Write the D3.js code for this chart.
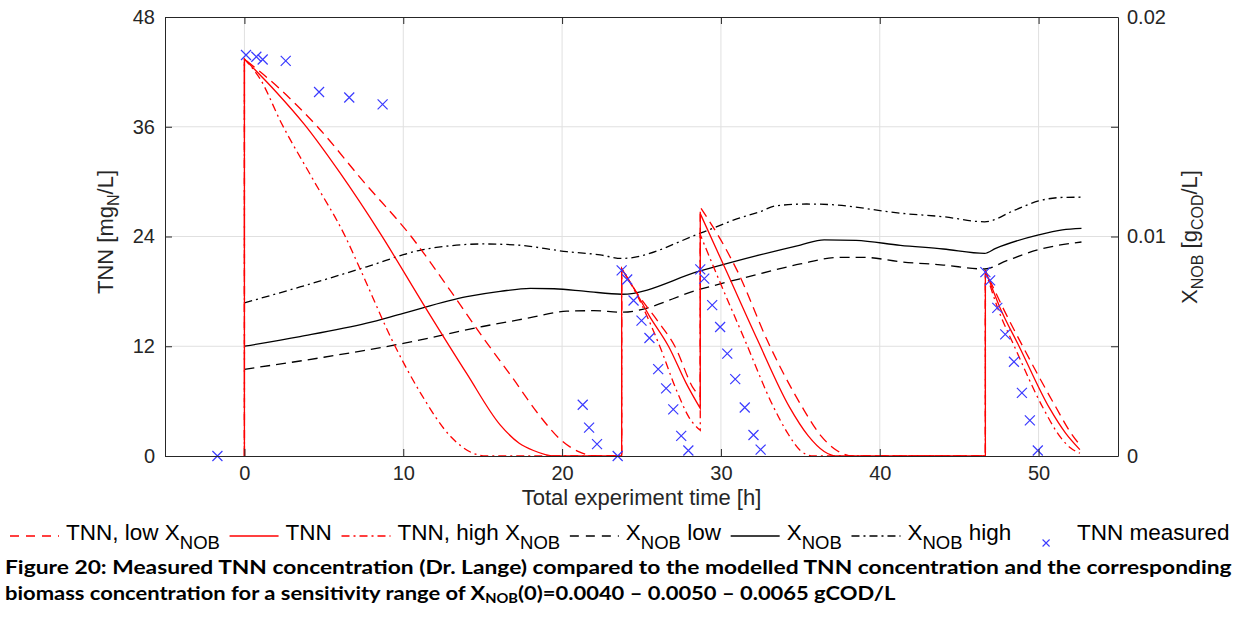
<!DOCTYPE html>
<html>
<head>
<meta charset="utf-8">
<script src="https://cdn.jsdelivr.net/npm/d3@7"></script>
<style>
  body { margin: 0; background: #fff; }
  svg text { font-family: "Liberation Sans", Arial, sans-serif; white-space: pre; }
</style>
</head>
<body>
<div id="chart"></div>
<script>
// ---- data ----
// measured TNN [mgN/L] vs time [h]
var measTime = [-1.7, 0.1, 0.75, 1.15, 2.6, 4.7, 6.6, 8.7,
  21.3, 21.7, 22.2, 23.5,
  23.75, 24.1, 24.5, 25.0, 25.5, 26.05, 26.55, 27.0, 27.5, 27.95,
  28.7, 28.95, 29.45, 29.95, 30.4, 30.9, 31.5, 32.05, 32.5,
  46.65, 46.95, 47.4, 47.9, 48.45, 48.95, 49.45, 49.95];
var measTNN = [0, 43.85, 43.65, 43.35, 43.2, 39.8, 39.2, 38.45,
  5.6, 3.1, 1.3, 0,
  20.3, 19.3, 17.0, 14.8, 12.9, 9.5, 7.4, 5.1, 2.2, 0.6,
  20.4, 19.4, 16.5, 14.1, 11.2, 8.4, 5.3, 2.3, 0.7,
  20.1, 19.2, 16.2, 13.3, 10.3, 6.9, 3.9, 0.6];

// modelled TNN [mgN/L], [time, value]
var tnnLow = [[0,0],[0,43.4],[2,40.5],[4.6,36],[7.5,30],[10.5,24],[13,18],[15,13],[16.9,8.5],[18.5,4.6],[19.9,1.8],[21,0.5],[22.2,0],[23.75,0],
  [23.75,20.5],[24.8,17.6],[26,14.8],[27.1,12],[28.3,7.3],[28.7,6.5],
  [28.7,27.2],[30,23.6],[31.1,20],[32.9,12.7],[35.1,5.4],[36.3,2.2],[37.3,0.6],[38.3,0],[46.65,0],
  [46.65,20.3],[47.7,16.4],[49,12],[51.1,5.3],[52,2.6],[52.7,1.0]];
var tnnMid = [[0,0],[0,43.4],[2,39.8],[3.8,36.2],[6,31],[8.6,24.2],[11.3,16.5],[14,9],[16.1,3.4],[17.3,1.4],[18.2,0.6],[19.5,0],[23.75,0],
  [23.75,20.5],[24.5,18.4],[25.5,15.3],[26.7,12],[27.8,8],[28.7,5.2],
  [28.7,26.5],[30.4,20],[32.3,12.7],[34.3,5.4],[35.5,2.2],[36.5,0.5],[37.3,0],[46.65,0],
  [46.65,20.3],[47.55,16.3],[48.8,11.9],[50.7,5.2],[51.7,2.5],[52.6,0.7]];
var tnnHigh = [[0,0],[0,43.4],[1,41.2],[2.3,36.5],[4.3,30.3],[6.35,24],[7.3,20.4],[9.4,12.3],[11.1,6.85],[13,2.1],[14.4,0.3],[15.2,0],[23.75,0],
  [23.75,20.5],[24.8,17.3],[26.15,12],[27.2,7.2],[28,4.2],[28.7,2.8],
  [28.7,24.2],[29.7,20],[31.5,12.7],[33.3,5.4],[34.2,2.5],[35,0.6],[35.8,0],[46.65,0],
  [46.65,20.3],[47.4,16.3],[48.5,11.9],[50.3,5.2],[51.4,2.0],[52,0.9],[52.6,0.3]];

// modelled biomass X_NOB [gCOD/L], [time, value]
var xnobLow = [[0,0.00395],[5,0.0045],[10,0.00513],[15,0.0059],[18,0.0063],[20.3,0.0066],[22,0.00662],[23.75,0.00655],
  [28.7,0.0076],[32.45,0.0083],[35,0.00875],[37.5,0.00905],[39,0.00905],[41.3,0.00885],[44,0.0087],[46.6,0.00852],
  [48,0.0089],[50,0.0094],[52.7,0.00975]];
var xnobMid = [[0,0.005],[3.5,0.00544],[7.7,0.00605],[10,0.0065],[14,0.00726],[16.1,0.0075],[18,0.00764],[19.5,0.00762],[21.5,0.0075],[23.75,0.00737],
  [28.7,0.00843],[32.45,0.00916],[35,0.00961],[36.5,0.00985],[38.5,0.00982],[41.3,0.0096],[44,0.00943],[46.6,0.00923],
  [47.3,0.00946],[50,0.01007],[51.5,0.0103],[52.7,0.01037]];
var xnobHigh = [[0,0.00698],[3.5,0.0077],[7.7,0.00862],[11.1,0.00938],[13,0.00958],[15,0.00966],[17,0.00962],[20.3,0.00931],[22.4,0.00916],[23.75,0.009],
  [28.7,0.01015],[31,0.0108],[32.45,0.01113],[33.5,0.0114],[35.4,0.01148],[37,0.01145],[41.3,0.01106],[44,0.0109],[46.6,0.01067],
  [48.5,0.0112],[50,0.01162],[51.5,0.01178],[52.7,0.01179]];

var xTicks = [0, 10, 20, 30, 40, 50];
var yTicks = [0, 12, 24, 36, 48];
var y2Ticks = [0, 0.005, 0.01, 0.015, 0.02];
var y2TickLabels = ["0", "", "0.01", "", "0.02"];

var legendLabels = [
  [["TNN, low X"], ["NOB", 1]],
  [["TNN"]],
  [["TNN, high X"], ["NOB", 1]],
  [["X"], ["NOB", 1], [" low"]],
  [["X"], ["NOB", 1]],
  [["X"], ["NOB", 1], [" high"]],
  [["TNN measured"]]
];

// ---- layout ----
var width = 1247, height = 617;
var plot = {left: 165, right: 1118, top: 17, bottom: 456};
var axisColor = "#262626";
var red = "#ff0000";
var blue = "#3a3aff";
var dashed = "10,6", dashDot = "8,4,2,4";

var svg = d3.select("#chart").append("svg")
  .attr("width", width)
  .attr("height", height);

var x = d3.scaleLinear().domain([-5, 55]).range([plot.left, plot.right]);
var y = d3.scaleLinear().domain([0, 48]).range([plot.bottom, plot.top]);
var y2 = d3.scaleLinear().domain([0, 0.02]).range([plot.bottom, plot.top]);

// text with subscript parts
function richText(sel, parts, subSize, shift) {
  var down = false;
  parts.forEach(function(p) {
    var t = sel.append("tspan").text(p[0]);
    if (p[1]) { t.attr("font-size", subSize).attr("dy", shift); down = true; }
    else if (down) { t.attr("dy", -shift); down = false; }
  });
  return sel;
}

// grid
var grid = svg.append("g").attr("stroke", "#e0e0e0").attr("stroke-width", 1);
grid.selectAll(".gx").data(xTicks).join("line")
  .attr("x1", d => x(d)).attr("x2", d => x(d))
  .attr("y1", plot.top).attr("y2", plot.bottom);
grid.selectAll(".gy").data(yTicks.slice(1, -1)).join("line")
  .attr("y1", d => y(d)).attr("y2", d => y(d))
  .attr("x1", plot.left).attr("x2", plot.right);

// curves: split at vertical jumps, keep one continuous path
function pathFor(pts, ys) {
  var segs = [], cur = [pts[0]];
  for (var i = 1; i < pts.length; i++) {
    var p = pts[i], q = pts[i - 1];
    if (p[0] === q[0]) {
      if (cur.length > 1) segs.push(cur);
      segs.push([q, p]);
      cur = [p];
    } else cur.push(p);
  }
  if (cur.length > 1) segs.push(cur);
  var line = d3.line().x(d => x(d[0])).y(d => ys(d[1])).curve(d3.curveMonotoneX);
  return segs.map((s, i) => i ? line(s).replace(/^M/, "L") : line(s)).join("");
}

var curves = [
  {data: xnobLow, ys: y2, color: "#000", dash: dashed},
  {data: xnobMid, ys: y2, color: "#000", dash: null},
  {data: xnobHigh, ys: y2, color: "#000", dash: dashDot},
  {data: tnnLow, ys: y, color: red, dash: dashed},
  {data: tnnHigh, ys: y, color: red, dash: dashDot},
  {data: tnnMid, ys: y, color: red, dash: null}
];
svg.append("g").selectAll("path").data(curves).join("path")
  .attr("d", d => pathFor(d.data, d.ys))
  .attr("fill", "none")
  .attr("stroke", d => d.color)
  .attr("stroke-width", 1.3)
  .attr("stroke-dasharray", d => d.dash);

// measured points
var cross = "M-5,-5L5,5M-5,5L5,-5";
svg.append("g").selectAll("path").data(measTime).join("path")
  .attr("d", cross)
  .attr("transform", (d, i) => "translate(" + x(d) + "," + y(measTNN[i]) + ")")
  .attr("fill", "none").attr("stroke", blue).attr("stroke-width", 1.2);

// axes (ticks pointing inwards)
function styleAxis(g) {
  g.selectAll("path, line").attr("stroke", axisColor).attr("stroke-width", 1);
  g.selectAll("text").attr("fill", axisColor).attr("font-size", 20)
    .attr("font-family", "Liberation Sans, Arial, sans-serif");
}
svg.append("g").attr("transform", "translate(0," + plot.bottom + ")")
  .call(d3.axisBottom(x).tickValues(xTicks).tickSize(-7).tickSizeOuter(0).tickPadding(10))
  .call(styleAxis);
svg.append("g").attr("transform", "translate(0," + plot.top + ")")
  .call(d3.axisTop(x).tickValues(xTicks).tickSize(-7).tickSizeOuter(0).tickFormat(""))
  .call(styleAxis);
svg.append("g").attr("transform", "translate(" + plot.left + ",0)")
  .call(d3.axisLeft(y).tickValues(yTicks).tickSize(-7).tickSizeOuter(0).tickPadding(10))
  .call(styleAxis);
svg.append("g").attr("transform", "translate(" + plot.right + ",0)")
  .call(d3.axisRight(y2).tickValues(y2Ticks).tickSize(-7).tickSizeOuter(0).tickPadding(9)
    .tickFormat((d, i) => y2TickLabels[i]))
  .call(styleAxis);

// axis titles
svg.append("text")
  .attr("x", (plot.left + plot.right) / 2).attr("y", 505)
  .attr("text-anchor", "middle").attr("font-size", 22).attr("fill", axisColor)
  .text("Total experiment time [h]");
richText(svg.append("text")
  .attr("transform", "translate(113,232) rotate(-90)")
  .attr("text-anchor", "middle").attr("font-size", 22).attr("fill", axisColor),
  [["TNN [mg"], ["N", 1], ["/L]"]], 16, 6);
richText(svg.append("text")
  .attr("transform", "translate(1197,237) rotate(-90)")
  .attr("text-anchor", "middle").attr("font-size", 22).attr("fill", axisColor),
  [["X"], ["NOB", 1], [" [g"], ["COD", 1], ["/L]"]], 16, 6);

// legend
var legendStyle = [
  {color: red, dash: "9,7"}, {color: red, dash: null}, {color: red, dash: dashDot},
  {color: "#000", dash: "9,7"}, {color: "#000", dash: null}, {color: "#000", dash: dashDot},
  {marker: true}
];
var lg = svg.append("g");
var cx = 10, ly = 536;
legendLabels.forEach(function(parts, i) {
  var st = legendStyle[i];
  if (st.marker) {
    lg.append("path").attr("d", "M-3.5,-3.5L3.5,3.5M-3.5,3.5L3.5,-3.5")
      .attr("transform", "translate(" + (cx + 25) + "," + (ly + 7) + ")")
      .attr("fill", "none").attr("stroke", blue).attr("stroke-width", 1.1);
  } else {
    lg.append("line").attr("x1", cx).attr("x2", cx + 49).attr("y1", ly).attr("y2", ly)
      .attr("stroke", st.color).attr("stroke-width", 1.3).attr("stroke-dasharray", st.dash);
  }
  var t = richText(lg.append("text").attr("x", cx + 56).attr("y", ly + 4)
    .attr("font-size", 22.5).attr("fill", "#000"), parts, 18.5, 9);
  cx += 56 + t.node().getComputedTextLength() + 9.7;
});

// caption
function fitText(t, x0, yb, w) {
  var bw = t.node().getBBox().width;
  t.attr("transform", "translate(" + x0 + "," + yb + ") scale(" + (w / bw) + ",1)");
}
var capFont = "Lato, 'Open Sans', sans-serif";
var cap1 = svg.append("text").attr("font-size", 19.5).attr("font-weight", "bold").attr("fill", "#000")
  .style("font-family", capFont)
  .text("Figure 20: Measured TNN concentration (Dr. Lange) compared to the modelled TNN concentration and the corresponding");
fitText(cap1, 5, 574, 1227);
var cap2 = richText(svg.append("text").attr("font-size", 19.5).attr("font-weight", "bold").attr("fill", "#000")
  .style("font-family", capFont),
  [["biomass concentration for a sensitivity range of X"], ["NOB", 1], ["(0)=0.0040 \u2013 0.0050 \u2013 0.0065 gCOD/L"]], 13, 3);
fitText(cap2, 5, 600, 891);
</script>
</body>
</html>
